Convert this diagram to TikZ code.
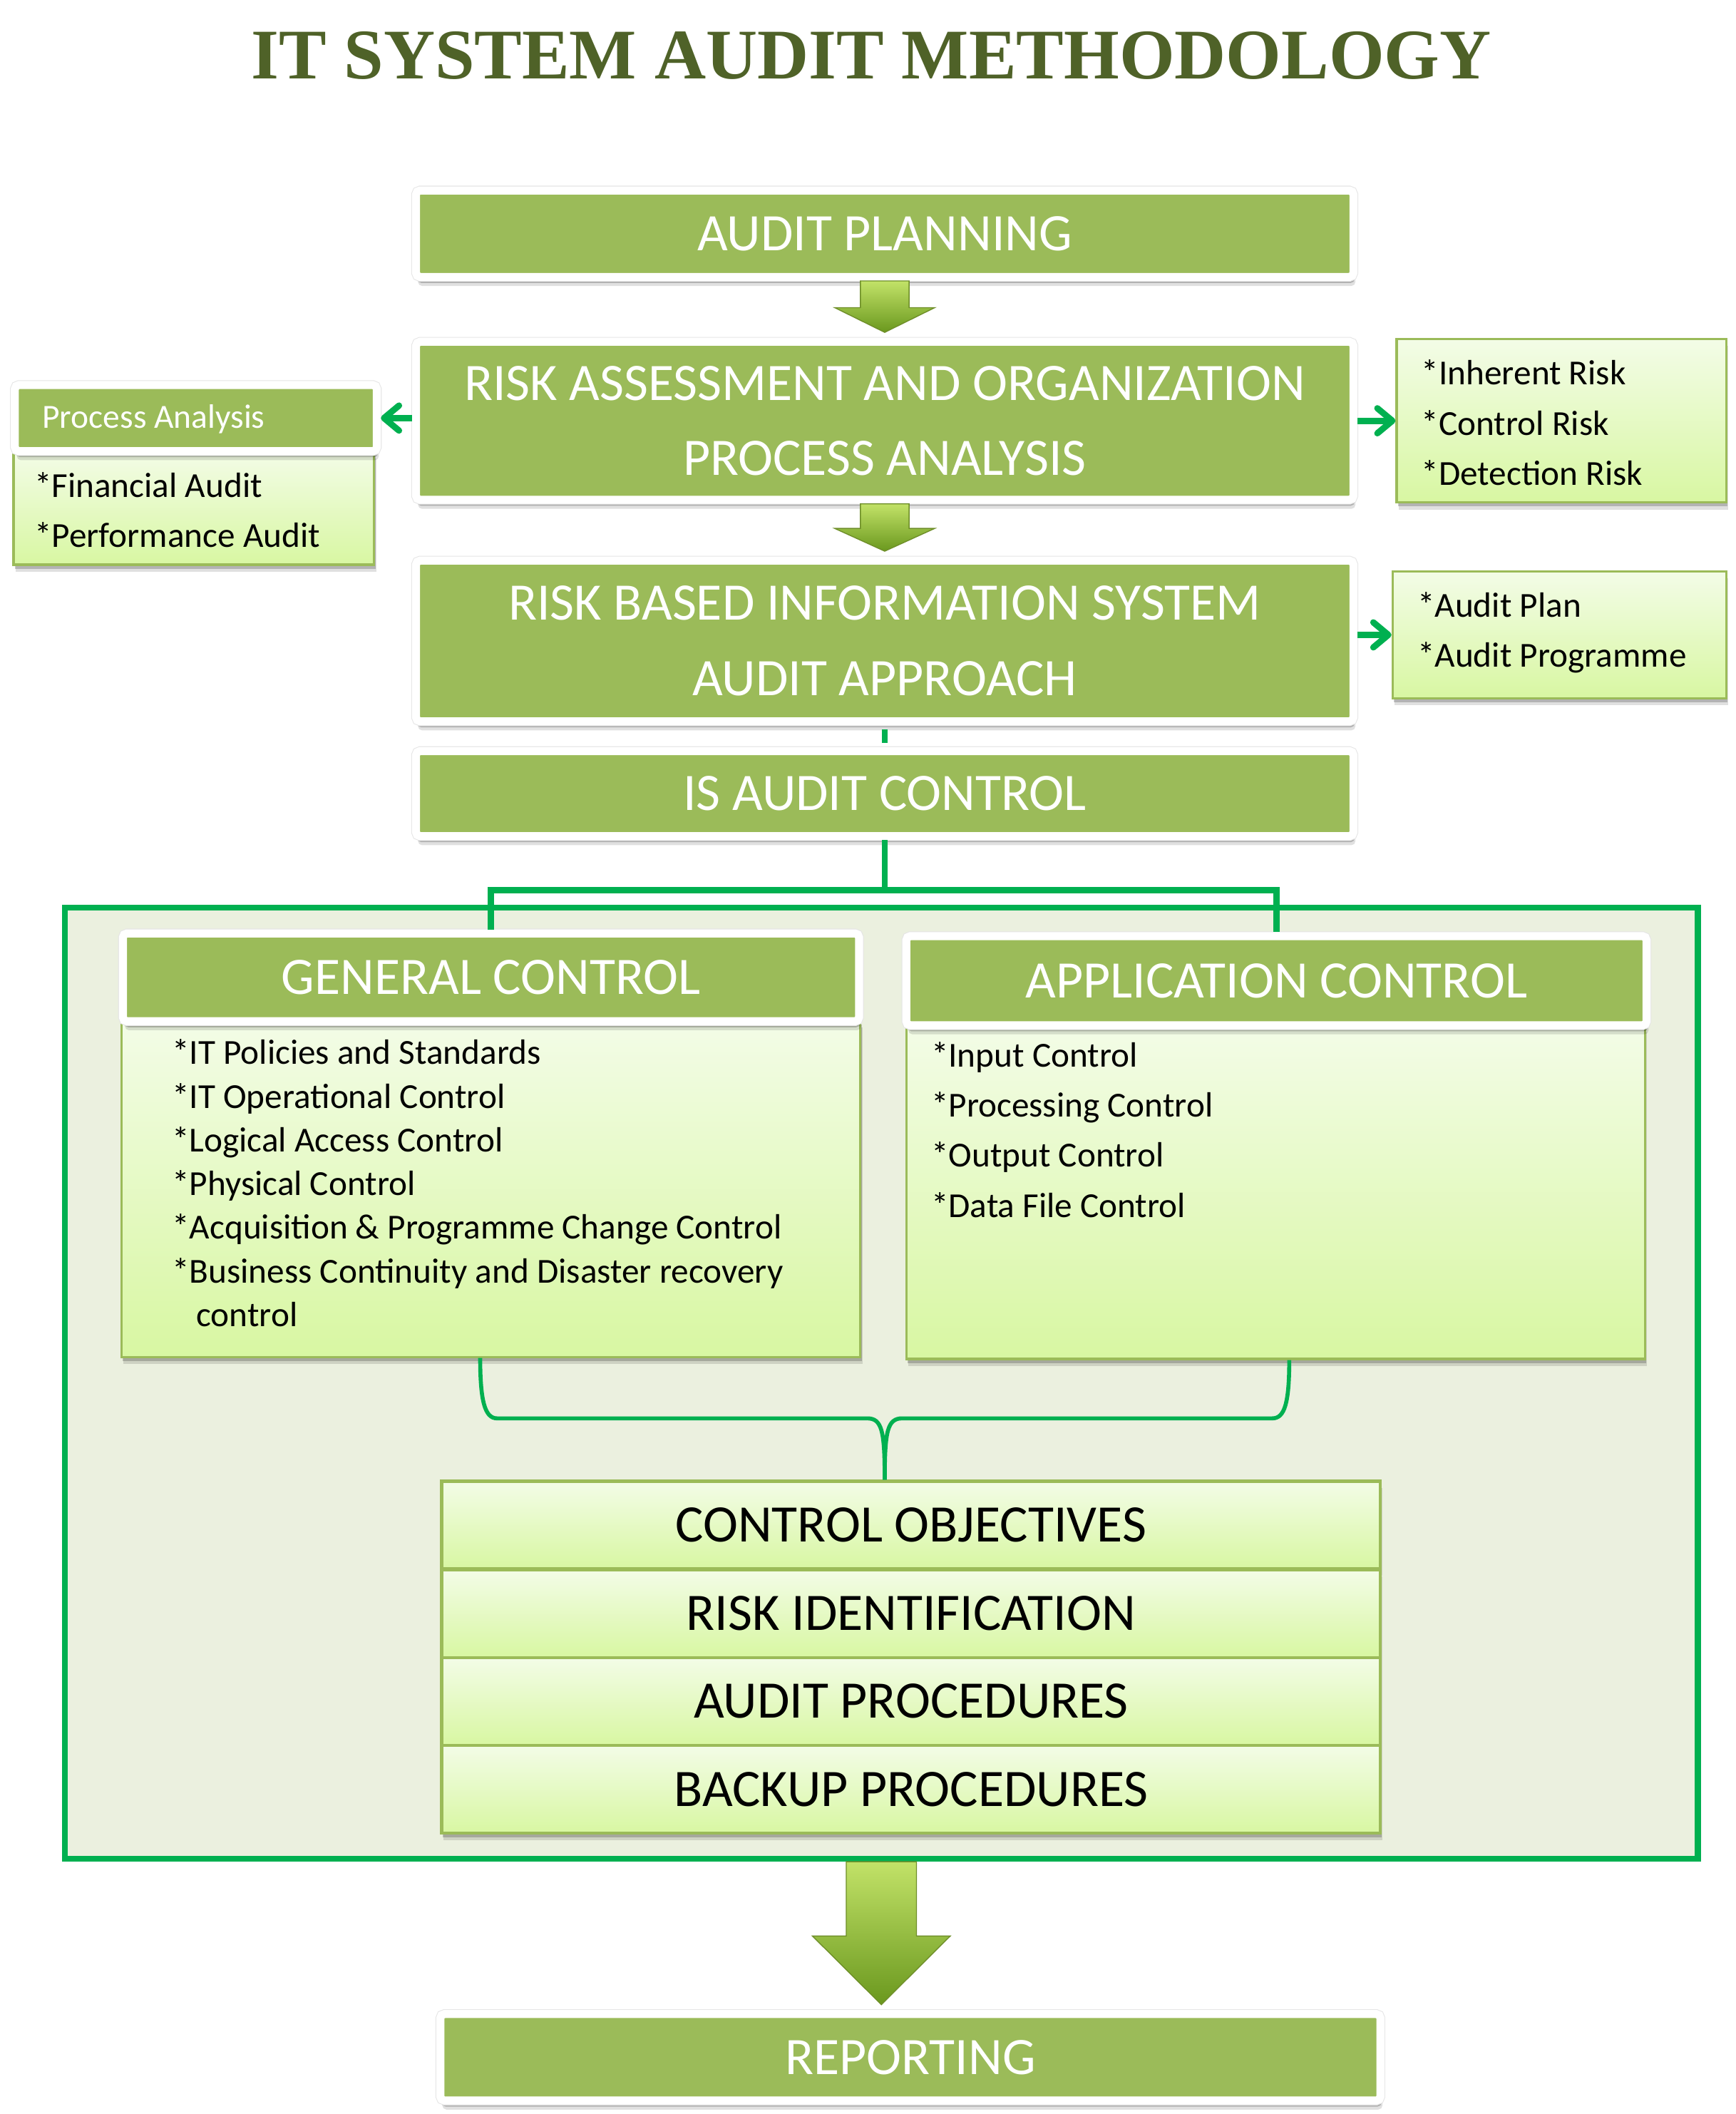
\documentclass[tikz,border=0pt]{standalone}
\usepackage{fontspec}
\setmainfont{Carlito}
\newfontfamily\titlefont{Liberation Serif}
\usetikzlibrary{calc,shadows,arrows.meta}

\definecolor{boxgreen}{HTML}{9BBB59}
\definecolor{linegreen}{HTML}{00B050}
\definecolor{titlegreen}{HTML}{4F6228}
\definecolor{panelbg}{HTML}{EBF0DF}
\definecolor{listtop}{HTML}{F3FCE7}
\definecolor{listbot}{HTML}{D8F7A2}
\definecolor{arrowtop}{HTML}{C2E268}
\definecolor{arrowbot}{HTML}{6A981E}
\definecolor{arrowedge}{HTML}{6F8F2A}

\newcommand{\dpx}{0.01894cm}

\tikzset{
  shade box/.style={drop shadow={shadow xshift=0.5pt,shadow yshift=-2.4pt,opacity=0.22,fill=black},
    drop shadow={shadow xshift=0.8pt,shadow yshift=-3.6pt,opacity=0.12,fill=black}},
  greenbox/.style 2 args={shade box, preaction={draw=black!10, line width=3.8pt}, draw=white, line width=3.2pt,
    rounded corners=1.6pt, fill=boxgreen, text=white,
    minimum width=#1*\dpx, minimum height=#2*\dpx, inner sep=0pt, align=center,
    font=\fontsize{21}{30}\selectfont},
  listbox/.style 2 args={drop shadow={shadow xshift=0.5pt,shadow yshift=-1.6pt,opacity=0.2,fill=black},
    drop shadow={shadow xshift=0.8pt,shadow yshift=-2.8pt,opacity=0.12,fill=black},
    draw=boxgreen, line width=0.9pt, top color=listtop, bottom color=listbot,
    minimum width=#1*\dpx, minimum height=#2*\dpx, inner sep=0pt},
  stackbox/.style={listbox={695}{65}, line width=1.2pt, font=\fontsize{21}{25}\selectfont},
  listitem/.style={anchor=base west, inner sep=0pt, font=\fontsize{14}{17}\selectfont},
  greenline/.style={draw=linegreen, line width=2.5pt},
  sidearrow/.style={greenline, -{Straight Barb[length=6pt,width=10pt,round]}},
  fatarrow/.style={draw=arrowedge, line width=0.4pt, top color=arrowtop, bottom color=arrowbot}
}

% 3d block arrow between two boxes: from, to, half shaft, half head
\newcommand{\fatdown}[4]{%
  \path[fatarrow] let \p1=(#1.south), \p2=($(#2.north)+(0,-4)$), \p3=($(\p1)!0.52!(\p2)$) in
    (\x1-#3*\dpx,\y1) -- (\x1+#3*\dpx,\y1) -- (\x1+#3*\dpx,\y3) -- (\x1+#4*\dpx,\y3)
    -- (\x1,\y2) -- (\x1-#4*\dpx,\y3) -- (\x1-#3*\dpx,\y3) -- cycle;}

\begin{document}
\begin{tikzpicture}[x=\dpx,y=-\dpx]
  \useasboundingbox (0,0) rectangle (1285,1565);
  \node[text=titlegreen, font=\titlefont\bfseries\fontsize{28.4}{34}\selectfont] (title) at (645,41) {IT SYSTEM AUDIT METHODOLOGY};

  \node[greenbox={694}{64}] (plan) at (655,173) {AUDIT PLANNING};
  \node[greenbox={694}{117}] (risk) at (655,311.5) {RISK ASSESSMENT AND ORGANIZATION\\PROCESS ANALYSIS};
  \node[greenbox={694}{119}] (approach) at (655,474.5) {RISK BASED INFORMATION SYSTEM\\AUDIT APPROACH};
  \node[greenbox={694}{63}] (isctrl) at (655,587.5) {IS AUDIT CONTROL};

  % left side
  \node[listbox={267}{84}] (palist) at (143.5,376) {};
  \node[greenbox={268}{49}] (pahead) at (145,309.5) {};
  \node[listitem, text=white, font=\fontsize{13.5}{16}\selectfont] (patext) at (31,317) {Process Analysis};
  \node[listitem] (fa) at (25,368) {*Financial Audit};
  \node[listitem] (pf) at (25,405) {*Performance Audit};

  % right side
  \node[listbox={244}{121}] (riskbox) at (1156,311.5) {};
  \foreach \t [count=\i from 0] in {Inherent Risk, Control Risk, Detection Risk}
    \node[listitem] (rk\i) at (1052,285+37*\i) {*\t};
  \node[listbox={247}{94}] (planbox) at (1154.5,470) {};
  \foreach \t [count=\i from 0] in {Audit Plan, Audit Programme}
    \node[listitem] (ap\i) at (1049,457+37*\i) {*\t};

  \draw[sidearrow] (risk.west |- pahead.east) -- (pahead.east);
  \draw[sidearrow] (risk.east) -- (riskbox.west);
  \draw[sidearrow] (approach.east |- planbox.west) -- (planbox.west);

  \fatdown{plan}{risk}{18}{37}
  \fatdown{risk}{approach}{18}{37}
  \draw[greenline, shorten <=1.6pt, shorten >=1.6pt] (approach.south) -- (isctrl.north);

  % control panel
  \node[draw=linegreen, line width=2.4pt, fill=panelbg, minimum width=1209*\dpx, minimum height=704*\dpx, inner sep=0pt] (panel) at (652.5,1024) {};

  \node[listbox={547}{249}] (genlist) at (363.5,880) {};
  \node[greenbox={545}{65}] (genhead) at (363.5,723.5) {GENERAL CONTROL};
  \node[listbox={547}{247}] (applist) at (944.5,882.5) {};
  \node[greenbox={548}{66}] (apphead) at (945,726) {APPLICATION CONTROL};

  \foreach \t [count=\i from 0] in {IT Policies and Standards, IT Operational Control, Logical Access Control,
      Physical Control, Acquisition \& Programme Change Control, Business Continuity and Disaster recovery}
    \node[listitem] (g\i) at (127,788+32.33*\i) {*\t};
  \node[listitem] (g6) at (145,982) {control};

  \foreach \t [count=\i from 0] in {Input Control, Processing Control, Output Control, Data File Control}
    \node[listitem] (a\i) at (689,790+37*\i) {*\t};

  \draw[greenline] (isctrl.south) -- ++(0,37) -| (genhead.north);
  \draw[greenline] (isctrl.south) -- ++(0,37) -| (apphead.north);

  \node[stackbox] (obj) at (674.5,1129) {CONTROL OBJECTIVES};
  \node[stackbox] (riskid) at (674.5,1194.5) {RISK IDENTIFICATION};
  \node[stackbox] (proc) at (674.5,1259.5) {AUDIT PROCEDURES};
  \node[stackbox] (backup) at (674.5,1324.5) {BACKUP PROCEDURES};

  \draw[greenline, line width=1.6pt] ($(genlist.south)+(-8,0)$) .. controls +(0,32) and +(-9,0) .. (368,1050)
    -- (642,1050) .. controls +(11,0) and +(0,-36) .. (obj.north -| isctrl.south);
  \draw[greenline, line width=1.6pt] ($(applist.south)+(10,0)$) .. controls +(0,32) and +(9,0) .. (942,1050)
    -- (668,1050) .. controls +(-11,0) and +(0,-36) .. (obj.north -| isctrl.south);

  \node[greenbox={696}{64}] (report) at (674,1523) {REPORTING};
  \fatdown{panel}{report}{26}{51}
\end{tikzpicture}
\end{document}
